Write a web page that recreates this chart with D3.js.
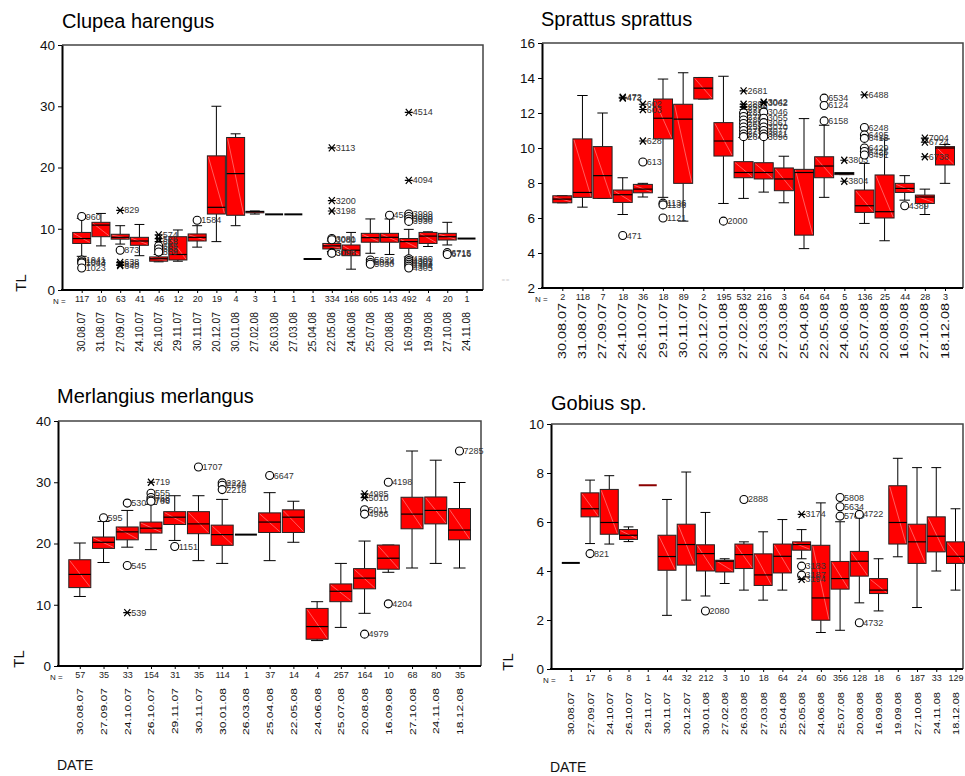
<!DOCTYPE html>
<html><head><meta charset="utf-8">
<script src="https://cdn.jsdelivr.net/npm/d3@7"></script>
<style>body{margin:0;background:#fff}svg{display:block}text{font-family:"Liberation Sans",Arial,sans-serif}</style>
</head><body>
<svg id="chart" width="965" height="776"></svg>
<script>
// ---------- DATA ----------
const clupeaDates = ["30.08.07","31.08.07","27.09.07","24.10.07","26.10.07","29.11.07","30.11.07","20.12.07","30.01.08","27.02.08","26.03.08","27.03.08","25.04.08","22.05.08","24.06.08","25.07.08","20.08.08","16.09.08","19.09.08","27.10.08","24.11.08"];
const clupeaN = [117,10,63,41,46,12,20,19,4,3,1,1,1,334,168,605,143,492,4,20,1];
// [lower whisker, Q1, median, Q3, upper whisker]
const clupeaBoxes = [
 [5.5,7.6,8.4,9.4,11.7],[7.2,8.7,10.6,11.05,12.5],[7.5,8.3,8.6,9.1,10.5],[5.6,7.3,8.0,8.6,10.7],
 [4.6,4.7,5.1,5.4,5.8],[4.7,4.9,5.8,8.7,9.8],[7.0,8.0,8.6,9.15,10.5],[7.9,12.4,13.5,21.9,30.0],
 [10.5,12.2,19.0,24.9,25.5],[12.4,12.6,12.8,12.85,12.9],[12.35,12.35,12.35,12.35,12.35],[12.35,12.35,12.35,12.35,12.35],
 [5.06,5.06,5.06,5.06,5.06],[6.3,6.7,7.2,7.6,8.0],[3.4,5.6,6.5,7.35,9.4],[6.0,7.8,8.55,9.25,11.6],
 [5.8,7.8,8.6,9.25,11.6],[5.4,6.8,7.9,8.4,9.9],[7.1,7.6,8.8,9.4,9.5],[7.35,8.16,8.7,9.25,11.05],[8.4,8.4,8.4,8.4,8.4]];
// [category index, value, marker ('o' circle / '*' extreme), case label]
const clupeaOutliers = [
 [0,12.0,'o','960'],[0,4.9,'o','1041'],[0,4.6,'o','1043'],[0,4.4,'o','1044'],[0,3.6,'o','1023'],
 [2,13.0,'*','829'],[2,6.5,'o','873'],[2,4.5,'*','638'],[2,4.2,'*','639'],[2,4.0,'*','640'],
 [4,9.0,'*','574'],[4,8.4,'*','576'],[4,7.9,'*','658'],[4,7.2,'o','655'],[4,6.7,'o','653'],[4,6.2,'o','659'],
 [6,11.4,'o','1584'],
 [13,23.2,'*','3113'],[13,14.6,'*','3200'],[13,12.9,'*','3198'],[13,8.4,'o','3081'],[13,8.2,'o','3080'],[13,6.1,'o','3090'],[13,6.0,'o','3098'],
 [15,4.9,'o','5629'],[15,4.5,'o','5034'],[15,4.2,'o','5030'],
 [16,12.2,'o','4532'],
 [17,29.0,'*','4514'],[17,17.9,'*','4094'],[17,12.4,'o','3999'],[17,12.0,'o','4000'],[17,11.6,'o','3950'],[17,11.2,'o','3930'],
 [17,5.1,'o','4300'],[17,4.8,'o','4301'],[17,4.5,'o','4302'],[17,4.2,'o','4303'],[17,3.9,'o','4304'],[17,3.6,'o','4305'],
 [19,6.1,'o','6715'],[19,5.8,'o','6716']];

const sprattusDates = ["30.08.07","31.08.07","27.09.07","24.10.07","26.10.07","29.11.07","30.11.07","20.12.07","30.01.08","27.02.08","26.03.08","27.03.08","25.04.08","22.05.08","24.06.08","25.07.08","20.08.08","16.09.08","27.10.08","18.12.08"];
const sprattusN = [2,118,7,18,36,18,89,2,195,532,216,3,64,64,5,136,25,44,28,3];
const sprattusBoxes = [
 [6.87,6.87,7.08,7.27,7.27],[6.62,7.18,7.46,10.52,13.0],[7.12,7.12,8.42,10.08,12.0],[6.2,6.89,7.33,7.6,8.3],
 [7.2,7.44,7.65,7.92,7.98],[7.18,10.52,11.7,12.8,13.94],[5.82,7.98,11.65,12.5,14.3],[12.8,12.8,13.42,14.03,14.03],
 [6.83,9.54,10.4,11.45,14.1],[7.12,8.3,8.6,9.22,10.6],[7.48,8.23,8.6,9.16,10.6],[6.87,7.56,8.23,8.86,9.53],
 [4.25,5.02,8.6,8.78,11.68],[7.18,8.3,8.97,9.5,11.3],[8.48,8.48,8.55,8.6,8.6],[5.69,6.32,6.7,7.6,9.12],
 [4.7,6.0,6.36,8.46,10.52],[7.02,7.46,7.69,7.98,8.42],[6.2,6.83,7.2,7.31,7.65],[7.98,9.03,10.0,10.08,10.2]];
const sprattusOutliers = [
 [3,5.0,'o','471'],[3,12.9,'*','472'],[3,12.85,'*','473'],
 [4,12.5,'*','602'],[4,12.2,'*','603'],[4,10.4,'*','628'],[4,9.2,'o','613'],
 [5,6.85,'o','1136'],[5,6.75,'o','1138'],[5,6.0,'o','1121'],
 [8,5.82,'o','2000'],
 [9,13.27,'*','2681'],[9,12.5,'*','2897'],[9,12.35,'*','2590'],[9,12.2,'*','2720'],[9,12.0,'o','2833'],[9,11.8,'o','2781'],
 [9,11.6,'o','2802'],[9,11.4,'o','2651'],[9,11.2,'o','2599'],[9,11.0,'o','2756'],[9,10.8,'o','2611'],[9,10.65,'o','2645'],
 [10,12.62,'*','3042'],[10,12.58,'*','3062'],[10,12.05,'o','3046'],[10,11.7,'o','3055'],[10,11.45,'o','3061'],
 [10,11.2,'o','3070'],[10,11.0,'o','3077'],[10,10.8,'o','3021'],[10,10.65,'o','3096'],
 [13,12.85,'o','6534'],[13,12.43,'o','6124'],[13,11.55,'o','6158'],
 [14,9.3,'*','3803'],[14,8.1,'*','3804'],
 [15,13.04,'*','6488'],[15,11.17,'o','6248'],[15,10.75,'o','6495'],[15,10.55,'o','6415'],[15,10.0,'o','6429'],[15,9.8,'o','6425'],[15,9.6,'o','6491'],
 [17,6.7,'o','4389'],
 [18,10.56,'*','7004'],[18,10.33,'*','6724'],[18,9.5,'*','6738']];

const merlangiusDates = ["30.08.07","27.09.07","24.10.07","26.10.07","29.11.07","30.11.07","30.01.08","26.03.08","25.04.08","22.05.08","24.06.08","25.07.08","20.08.08","16.09.08","27.10.08","24.11.08","18.12.08"];
const merlangiusN = [57,35,33,154,31,35,114,1,37,14,4,257,164,10,68,80,35];
const merlangiusBoxes = [
 [11.35,12.8,14.95,17.35,20.08],[16.9,19.2,20.2,21.06,23.6],[19.4,20.6,21.9,22.7,25.4],[19.0,21.7,22.5,23.5,26.4],
 [20.5,23.1,24.3,25.2,27.8],[17.2,21.6,23.2,25.2,27.8],[16.75,19.7,21.45,23.0,27.2],[21.45,21.45,21.45,21.45,21.45],
 [17.2,21.8,23.5,25.0,28.3],[20.2,21.8,24.3,25.5,26.9],[4.15,4.37,6.44,9.4,10.5],[6.3,10.5,12.2,13.4,16.75],
 [8.6,12.6,14.35,15.9,20.4],[15.3,15.8,17.6,19.75,19.75],[16.0,22.4,24.8,27.55,35.1],[16.75,23.2,25.4,27.6,33.6],[16.0,20.6,22.2,25.7,29.96]];
const merlangiusOutliers = [
 [1,24.2,'o','595'],
 [2,26.6,'o','530'],[2,16.4,'o','545'],[2,8.7,'*','539'],
 [3,30.0,'*','719'],[3,28.2,'o','555'],[3,27.5,'o','768'],[3,27.1,'o','749'],[3,26.9,'o','706'],
 [4,19.5,'o','1151'],[5,32.5,'o','1707'],
 [6,29.9,'o','2221'],[6,29.5,'o','2240'],[6,28.8,'o','2218'],
 [8,31.1,'o','6647'],
 [12,28.1,'*','4985'],[12,27.5,'*','5010'],[12,25.5,'o','5011'],[12,24.8,'o','4986'],[12,5.2,'o','4979'],
 [13,30.0,'o','4198'],[13,10.15,'o','4204'],
 [16,35.1,'o','7285']];

const gobiusDates = ["30.08.07","27.09.07","24.10.07","26.10.07","29.11.07","30.11.07","20.12.07","30.01.08","27.02.08","26.03.08","27.03.08","25.04.08","22.05.08","24.06.08","25.07.08","20.08.08","16.09.08","19.09.08","27.10.08","24.11.08","18.12.08"];
const gobiusN = [1,17,6,8,1,44,32,212,3,10,18,64,24,60,356,128,18,6,187,33,129];
const gobiusBoxes = [
 [4.33,4.33,4.33,4.33,4.33],[5.12,6.21,6.54,7.19,7.71],[5.1,5.5,5.98,7.33,7.89],[5.2,5.29,5.46,5.69,5.8],
 [7.5,7.5,7.5,7.5,7.5],[2.19,4.03,4.59,5.46,6.92],[2.81,4.24,5.08,5.91,8.04],[2.98,4.0,4.71,5.07,6.39],
 [3.49,3.96,4.4,4.44,4.5],[3.22,4.1,4.67,5.1,5.19],[2.81,3.41,3.84,4.7,5.6],[3.22,3.92,4.6,5.1,6.1],
 [4.5,4.85,5.08,5.19,5.69],[1.49,1.99,2.9,5.05,6.78],[1.58,3.26,3.69,4.39,6.01],[2.7,3.79,4.4,4.8,6.21],
 [2.37,3.08,3.22,3.69,4.5],[4.58,5.1,5.98,7.48,8.6],[2.51,4.31,5.19,5.91,8.22],[4.0,4.78,5.42,6.21,8.22],[3.22,4.31,4.6,5.19,6.54]];
const gobiusOutliers = [
 [1,4.71,'o','821'],[7,2.37,'o','2080'],[9,6.92,'o','2888'],
 [12,6.31,'*','3174'],[12,4.2,'o','3183'],[12,3.83,'o','3187'],[12,3.66,'*','3194'],
 [14,7.0,'o','5808'],[14,6.62,'o','5634'],[14,6.24,'o','5769'],
 [15,6.31,'o','4722'],[15,1.89,'o','4732']];

const titles = ["Clupea harengus","Sprattus sprattus","Merlangius merlangus","Gobius sp."];
const yTicks = [[0,10,20,30,40],[2,4,6,8,10,12,14,16],[0,10,20,30,40],[0,2,4,6,8,10]];

// ---------- LAYOUT ----------
const panels = [
 {left:62,right:483,top:45,bottom:290,domain:[0,40],x0:81.7,x1:466.5,boxW:18,
  titleX:62,titleY:28,tlX:26,tlY:283,tl:"TL",nX:53,dateLen:40,dateFont:10,dateOff:22,date:null},
 {left:542,right:963,top:43,bottom:288,domain:[2,16],x0:562.3,x1:945,boxW:19,
  titleX:541,titleY:26,tlX:507,tlY:280,tl:"¦",nX:535,dateLen:56,dateFont:10,dateOff:15,date:null},
 {left:58,right:481,top:421,bottom:666,domain:[0,40],x0:79.8,x1:459.5,boxW:22,
  titleX:57,titleY:403,tlX:24,tlY:659,tl:"TL",nX:50,dateLen:47,dateFont:9.5,dateOff:22,date:[57,770]},
 {left:551,right:963,top:424,bottom:669,domain:[0,10],x0:570.8,x1:955.5,boxW:18,
  titleX:551,titleY:410,tlX:513,tlY:662,tl:"TL",nX:543,dateLen:43,dateFont:9.5,dateOff:23,date:[550,772]}
];

const svg = d3.select("#chart");
const FONT = '"Liberation Sans",Arial,sans-serif';

function drawPanel(p, k, dates, ns, boxes, outs) {
  const g = svg.append("g");
  const x = d3.scalePoint().domain(dates.map((d,i)=>i)).range([p.x0,p.x1]);
  const y = d3.scaleLinear().domain(p.domain).range([p.bottom,p.top]);

  g.append("text").attr("x",p.titleX).attr("y",p.titleY).attr("font-size",20).attr("fill","#000").text(titles[k]);

  g.append("path").attr("d",`M${p.left},${p.top}H${p.right}V${p.bottom}`)
    .attr("fill","none").attr("stroke","#444").attr("stroke-width",1.5);

  g.append("g").attr("transform",`translate(${p.left},0)`)
    .call(d3.axisLeft(y).tickValues(yTicks[k]).tickSize(4).tickSizeOuter(0).tickPadding(3).tickFormat(d3.format("d")))
    .call(a=>a.select(".domain").attr("stroke","#000").attr("stroke-width",2))
    .call(a=>a.selectAll(".tick line").attr("stroke","#000"))
    .call(a=>a.selectAll("text").attr("font-size",13.5).attr("fill","#111").attr("font-family",FONT));

  g.append("g").attr("transform",`translate(0,${p.bottom})`)
    .call(d3.axisBottom(x).tickSize(3).tickSizeOuter(0).tickPadding(3).tickFormat(i=>ns[i]))
    .call(a=>a.select(".domain").remove())
    .call(a=>a.selectAll(".tick line").attr("stroke","#000"))
    .call(a=>a.selectAll("text").attr("font-size",9).attr("fill","#222").attr("font-family",FONT));
  g.append("line").attr("x1",p.left-1).attr("x2",p.right).attr("y1",p.bottom).attr("y2",p.bottom)
    .attr("stroke","#000").attr("stroke-width",2);
  g.append("text").attr("x",p.nX).attr("y",p.bottom+14).attr("font-size",8).attr("fill","#222").text("N =");

  const sx = p.dateLen/(3.892*p.dateFont);
  g.selectAll(".dlab").data(dates).join("text").attr("class","dlab")
    .attr("transform",(d,i)=>`translate(${x(i)+3.5},${p.bottom+p.dateOff}) rotate(-90) scale(${sx},1)`)
    .attr("text-anchor","end").attr("font-size",p.dateFont).attr("fill","#111").text(d=>d);

  g.append("text").attr("transform",`translate(${p.tlX},${p.tlY}) rotate(-90)`)
    .attr("text-anchor","middle").attr("font-size",p.tl==="TL"?15:8).attr("fill",p.tl==="TL"?"#111":"#999").text(p.tl);
  if (p.date) g.append("text").attr("x",p.date[0]).attr("y",p.date[1]).attr("font-size",14).attr("fill","#111").text("DATE");

  const w = p.boxW, cw = w*0.55;
  const bx = g.append("g");
  boxes.forEach((b,i)=>{
    const cx = x(i);
    const [lo,q1,md,q3,hi] = b;
    if (lo===hi) {
      bx.append("line").attr("x1",cx-w/2).attr("x2",cx+w/2).attr("y1",y(md)).attr("y2",y(md))
        .attr("stroke",k===3&&i===4?"#8b0000":"#000").attr("stroke-width",2);
      return;
    }
    const wk = bx.append("g").attr("stroke","#000").attr("stroke-width",1);
    wk.append("line").attr("x1",cx).attr("x2",cx).attr("y1",y(hi)).attr("y2",y(q3));
    wk.append("line").attr("x1",cx).attr("x2",cx).attr("y1",y(q1)).attr("y2",y(lo));
    wk.append("line").attr("x1",cx-cw/2).attr("x2",cx+cw/2).attr("y1",y(hi)).attr("y2",y(hi));
    wk.append("line").attr("x1",cx-cw/2).attr("x2",cx+cw/2).attr("y1",y(lo)).attr("y2",y(lo));
    const yt = y(q3), yb = y(q1);
    bx.append("rect").attr("x",cx-w/2).attr("y",yt).attr("width",w).attr("height",Math.max(yb-yt,1))
      .attr("fill","#ff0000").attr("stroke","#222").attr("stroke-width",1);
    if (yb-yt>3) bx.append("line").attr("x1",cx-w/2+1).attr("x2",cx+w/2-1).attr("y1",yt+1).attr("y2",yb-1)
      .attr("stroke","#ff9a9a").attr("stroke-width",0.6);
    bx.append("line").attr("x1",cx-w/2).attr("x2",cx+w/2).attr("y1",y(md)).attr("y2",y(md))
      .attr("stroke","#000").attr("stroke-width",1.2);
  });

  const og = g.append("g");
  outs.forEach(o=>{
    const cx = x(o[0]), cy = y(o[1]);
    if (o[2]==='o') {
      og.append("circle").attr("cx",cx).attr("cy",cy).attr("r",4).attr("fill","#fff").attr("stroke","#000").attr("stroke-width",1.1);
    } else {
      og.append("path").attr("transform",`translate(${cx},${cy})`)
        .attr("d","M-4,0H4M-3,-3.5L3,3.5M-3,3.5L3,-3.5").attr("stroke","#000").attr("stroke-width",1.2).attr("fill","none");
    }
    og.append("text").attr("x",cx+4).attr("y",cy+3).attr("font-size",9).attr("fill","#333").text(o[3]);
  });
}

drawPanel(panels[0],0,clupeaDates,clupeaN,clupeaBoxes,clupeaOutliers);
drawPanel(panels[1],1,sprattusDates,sprattusN,sprattusBoxes,sprattusOutliers);
drawPanel(panels[2],2,merlangiusDates,merlangiusN,merlangiusBoxes,merlangiusOutliers);
drawPanel(panels[3],3,gobiusDates,gobiusN,gobiusBoxes,gobiusOutliers);
</script>
</body></html>
